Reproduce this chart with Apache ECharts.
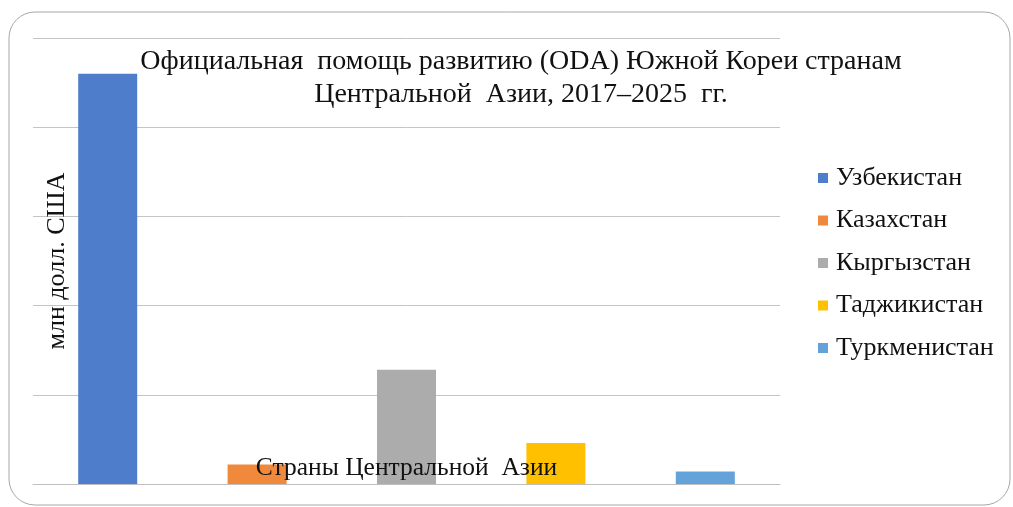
<!DOCTYPE html>
<html>
<head>
<meta charset="utf-8">
<script src="https://cdn.jsdelivr.net/npm/echarts@6/dist/echarts.min.js"></script>
<style>
  html, body { margin: 0; padding: 0; background: #fff; }
  #chart { width: 1013px; height: 507px; }
</style>
</head>
<body>
<div id="chart"></div>
<script>
// страны и значения (млн долл. США), оценка по рисунку
const countries = ["Узбекистан", "Казахстан", "Кыргызстан", "Таджикистан", "Туркменистан"];
const odaValues = [230, 11, 64, 23, 7];
const barColors = ["#4e7dcb", "#f0893b", "#acacac", "#ffc000", "#64a3da"];

const titleText = "Официальная  помощь развитию (ODA) Южной Кореи странам\nЦентральной  Азии, 2017–2025  гг.";
const yName = "млн долл. США";
const xName = "Страны Центральной  Азии";

const font = "'Liberation Serif', 'Times New Roman', serif";

let chart = echarts.init(document.getElementById("chart"));

// каждая страна — своя серия, стоит в своей категории
const seriesList = countries.map((name, i) => ({
  name: name,
  type: "bar",
  stack: "all",
  barWidth: 59,
  itemStyle: { color: barColors[i] },
  data: countries.map((c, j) => (j === i ? odaValues[i] : "-")),
}));

let option = {
  animation: false,
  title: {
    text: titleText,
    left: 516,
    textAlign: "center",
    top: 40,
    textStyle: { fontFamily: font, fontSize: 28, fontWeight: "normal", color: "#111", lineHeight: 33 },
  },
  legend: {
    orient: "vertical",
    left: 813,
    top: 160,
    itemWidth: 10,
    itemHeight: 10,
    itemGap: 16.5,
    icon: "rect",
    textStyle: { fontFamily: font, fontSize: 26, color: "#111", padding: [0, 0, 0, 3] },
    data: countries,
  },
  grid: { left: 33, right: 233, top: 38, bottom: 23 },
  xAxis: {
    type: "category",
    data: countries,
    z: 5,
    name: xName,
    nameLocation: "middle",
    nameGap: -29,
    nameTextStyle: { fontFamily: font, fontSize: 25.5, color: "#111" },
    axisLine: { lineStyle: { color: "#bfbfbf" } },
    axisTick: { show: false },
    axisLabel: { show: false },
  },
  yAxis: {
    type: "value",
    min: 0,
    max: 250,
    interval: 50,
    name: yName,
    nameLocation: "middle",
    nameRotate: 90,
    nameGap: -37,
    nameTextStyle: { fontFamily: font, fontSize: 26, color: "#111" },
    axisLine: { show: false },
    axisTick: { show: false },
    axisLabel: { show: false },
    splitLine: { lineStyle: { color: "#c4c4c4" } },
  },
  graphic: [
    {
      type: "rect",
      shape: { x: 9, y: 12, width: 1001, height: 493, r: 26 },
      style: { fill: null, stroke: "#a6a6a6", lineWidth: 1 },
      silent: true,
    },
  ],
  series: seriesList,
};
option && chart.setOption(option);
</script>
</body>
</html>
